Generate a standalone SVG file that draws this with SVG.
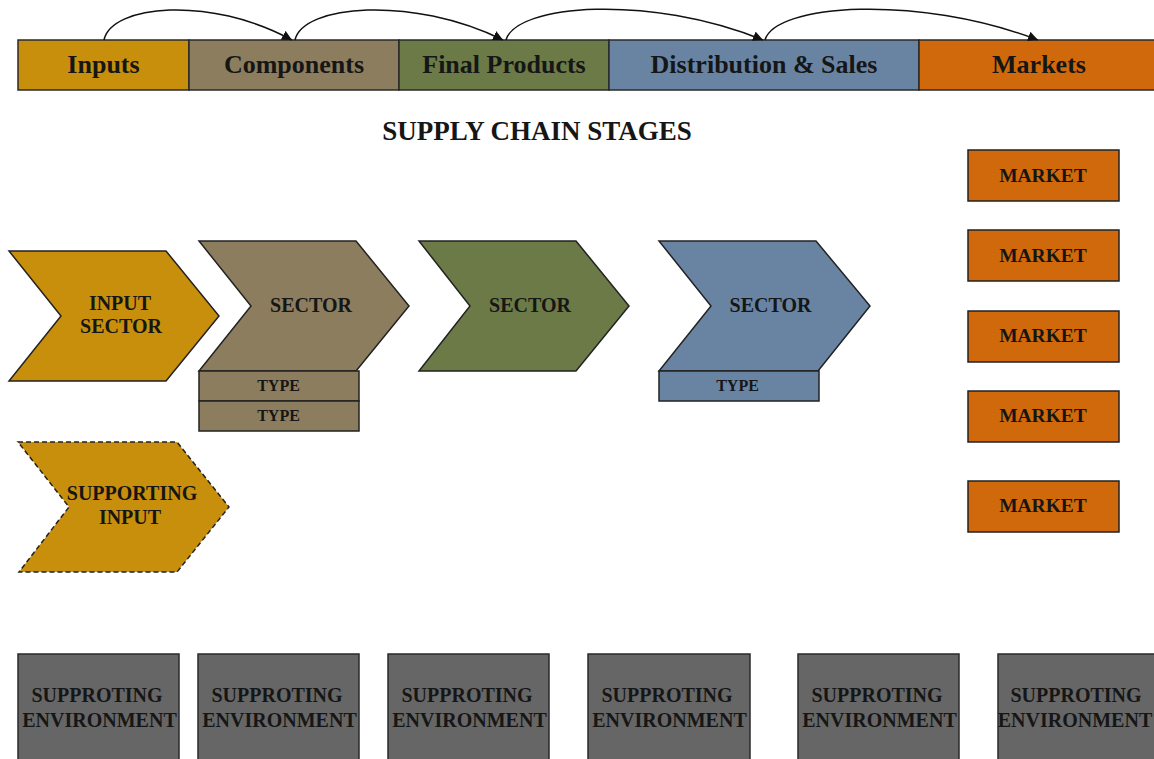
<svg xmlns="http://www.w3.org/2000/svg" width="1154" height="759" viewBox="0 0 1154 759">
<style>
  text { font-family: "Liberation Serif", "Times New Roman", serif; font-weight: bold; fill: #161616; text-anchor: middle; }
  .bar { stroke: #2a2a2a; stroke-width: 1.5; }
  .bt { font-size: 26px; }
  .shape { stroke: #222; stroke-width: 1.5; }
  .dash { stroke-dasharray: 5 3; }
  .lbl { font-size: 20px; }
  .type { font-size: 16px; }
  .mk { font-size: 19.5px; }
  .env { fill: #666666; stroke: #2a2a2a; stroke-width: 1.5; }
  .arc { fill: none; stroke: #111; stroke-width: 1.5; marker-end: url(#ah); }
</style>
<defs>
  <marker id="ah" viewBox="0 0 10 10" refX="10" refY="5" markerWidth="10" markerHeight="10" markerUnits="userSpaceOnUse" orient="auto">
    <path d="M0,0 L10,5 L0,10 z" fill="#111"/>
  </marker>
</defs>
<rect width="1154" height="759" fill="#ffffff"/>

<g id="stage-inputs">
  <rect class="bar" x="18" y="40" width="171" height="50" fill="#C78F0C"/>
  <text class="bt" x="103.5" y="73">Inputs</text>
</g>
<g id="stage-components">
  <rect class="bar" x="189" y="40" width="210" height="50" fill="#8C7D5E"/>
  <text class="bt" x="294" y="73">Components</text>
</g>
<g id="stage-final-products">
  <rect class="bar" x="399" y="40" width="210" height="50" fill="#6B7A47"/>
  <text class="bt" x="504" y="73">Final Products</text>
</g>
<g id="stage-distribution">
  <rect class="bar" x="609" y="40" width="310" height="50" fill="#6984A2"/>
  <text class="bt" x="764" y="73">Distribution &amp; Sales</text>
</g>
<g id="stage-markets">
  <rect class="bar" x="919" y="40" width="240" height="50" fill="#D0690B"/>
  <text class="bt" x="1039" y="73">Markets</text>
</g>

<g id="connectors">
  <path class="arc" d="M104,40 C111.5,5 209,-5 292,40"/>
  <path class="arc" d="M295,40 C303,5 411,-5 503,40"/>
  <path class="arc" d="M506,40 C516,4 650,-6 763,40"/>
  <path class="arc" d="M765,40 C775,4 917,-6 1038,40"/>
</g>

<g id="title">
  <text x="537" y="140" style="font-size:27px">SUPPLY CHAIN STAGES</text>
</g>

<g id="input-sector">
  <polygon class="shape" fill="#C78F0C" points="9,251 166,251 219,316 166,381 9,381 61,316"/>
  <text class="lbl" x="120" y="310">INPUT</text>
  <text class="lbl" x="121" y="333">SECTOR</text>
</g>

<g id="sector-components">
  <polygon class="shape" fill="#8C7D5E" points="199,241 356,241 409,306 356,371 199,371 251,306"/>
  <text class="lbl" x="311" y="311.5">SECTOR</text>
</g>
<g id="type-components-1">
  <rect class="shape" x="199" y="371" width="160" height="30" fill="#8C7D5E"/>
  <text class="type" x="278.5" y="391">TYPE</text>
</g>
<g id="type-components-2">
  <rect class="shape" x="199" y="401" width="160" height="30" fill="#8C7D5E"/>
  <text class="type" x="278.5" y="420.5">TYPE</text>
</g>

<g id="sector-final">
  <polygon class="shape" fill="#6B7A47" points="419,241 576,241 629,306 576,371 419,371 470,306"/>
  <text class="lbl" x="530" y="311.5">SECTOR</text>
</g>

<g id="sector-distribution">
  <polygon class="shape" fill="#6984A2" points="659,241 816,241 870,306 818,371 659,371 711,306"/>
  <text class="lbl" x="770.5" y="311.5">SECTOR</text>
</g>
<g id="type-distribution">
  <rect class="shape" x="659" y="371" width="160" height="30" fill="#6984A2"/>
  <text class="type" x="737.5" y="391">TYPE</text>
</g>

<g id="supporting-input">
  <polygon class="shape dash" fill="#C78F0C" points="18,442 177,442 229,507 177,572 19,572 69,507"/>
  <text class="lbl" x="132" y="500">SUPPORTING</text>
  <text class="lbl" x="130" y="523.5">INPUT</text>
</g>

<g id="market-1">
  <rect class="shape" x="968" y="150" width="151" height="51" fill="#D0690B"/>
  <text class="mk" x="1043" y="181.5">MARKET</text>
</g>
<g id="market-2">
  <rect class="shape" x="968" y="230" width="151" height="51" fill="#D0690B"/>
  <text class="mk" x="1043" y="261.5">MARKET</text>
</g>
<g id="market-3">
  <rect class="shape" x="968" y="311" width="151" height="51" fill="#D0690B"/>
  <text class="mk" x="1043" y="342">MARKET</text>
</g>
<g id="market-4">
  <rect class="shape" x="968" y="391" width="151" height="51" fill="#D0690B"/>
  <text class="mk" x="1043" y="422">MARKET</text>
</g>
<g id="market-5">
  <rect class="shape" x="968" y="481" width="151" height="51" fill="#D0690B"/>
  <text class="mk" x="1043" y="512">MARKET</text>
</g>

<g id="env-1">
  <rect class="env" x="18" y="654" width="161" height="110"/>
  <text class="lbl" x="97" y="702">SUPPROTING</text>
  <text class="lbl" x="99.5" y="727">ENVIRONMENT</text>
</g>
<g id="env-2">
  <rect class="env" x="198" y="654" width="161" height="110"/>
  <text class="lbl" x="277" y="702">SUPPROTING</text>
  <text class="lbl" x="279.5" y="727">ENVIRONMENT</text>
</g>
<g id="env-3">
  <rect class="env" x="388" y="654" width="161" height="110"/>
  <text class="lbl" x="467" y="702">SUPPROTING</text>
  <text class="lbl" x="469.5" y="727">ENVIRONMENT</text>
</g>
<g id="env-4">
  <rect class="env" x="588" y="654" width="162" height="110"/>
  <text class="lbl" x="667" y="702">SUPPROTING</text>
  <text class="lbl" x="669.5" y="727">ENVIRONMENT</text>
</g>
<g id="env-5">
  <rect class="env" x="798" y="654" width="161" height="110"/>
  <text class="lbl" x="877" y="702">SUPPROTING</text>
  <text class="lbl" x="879.5" y="727">ENVIRONMENT</text>
</g>
<g id="env-6">
  <rect class="env" x="998" y="654" width="161" height="110"/>
  <text class="lbl" x="1076" y="702">SUPPROTING</text>
  <text class="lbl" x="1075" y="727">ENVIRONMENT</text>
</g>
</svg>
